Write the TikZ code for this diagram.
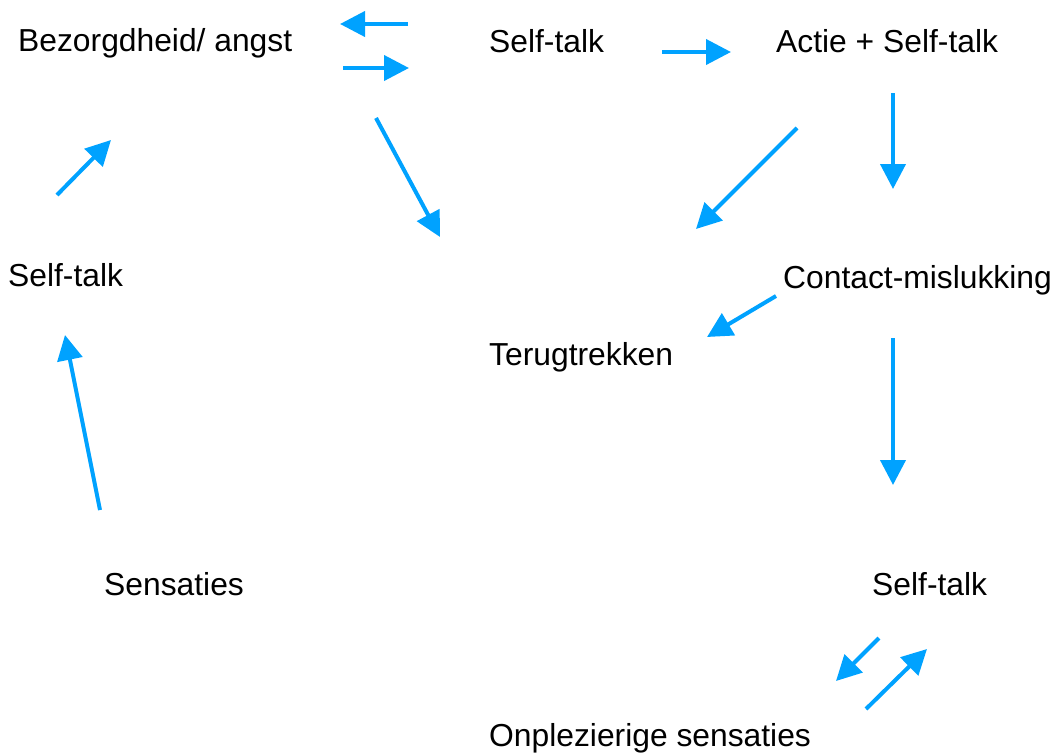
\documentclass[tikz,border=0pt]{standalone}
\usepackage{fontspec}
\setmainfont{Liberation Sans}
\usetikzlibrary{arrows.meta}
\definecolor{arr}{HTML}{00A2FF}
\begin{document}
\begin{tikzpicture}[x=1pt,y=-1pt,
  lbl/.style={anchor=base west,inner sep=0pt,font=\fontsize{31.8}{36}\selectfont},
  arrw/.style={draw=arr,line width=4pt,-{Triangle[length=25pt,width=25pt]}}]
\useasboundingbox (0,0) rectangle (1055,753);
\node[lbl] (bez) at (18,51) {Bezorgdheid/ angst};
\node[lbl] (st1) at (489,52) {Self-talk};
\node[lbl] (act) at (776,52) {Actie + Self-talk};
\node[lbl] (st2) at (8,286) {Self-talk};
\node[lbl] (con) at (783,288) {Contact-mislukking};
\node[lbl] (ter) at (489,365) {Terugtrekken};
\node[lbl] (sen) at (104,595) {Sensaties};
\node[lbl] (st3) at (872,595) {Self-talk};
\node[lbl] (onp) at (489,746) {Onplezierige sensaties};
\coordinate (a1s) at (408,24); \coordinate (a1e) at (340,24);
\coordinate (a2s) at (343,68); \coordinate (a2e) at (409,68);
\coordinate (a3s) at (662,52); \coordinate (a3e) at (731,52);
\coordinate (a4s) at (376,118); \coordinate (a4e) at (440,237);
\coordinate (a5s) at (797,128); \coordinate (a5e) at (696,229);
\coordinate (a6s) at (893,93); \coordinate (a6e) at (893,189);
\coordinate (a7s) at (57,195); \coordinate (a7e) at (111,140);
\coordinate (a8s) at (100,510); \coordinate (a8e) at (65,335);
\coordinate (a9s) at (776,296); \coordinate (a9e) at (707,337);
\coordinate (a10s) at (893,338); \coordinate (a10e) at (893,485);
\coordinate (a11s) at (879,638); \coordinate (a11e) at (836,681);
\coordinate (a12s) at (866,709); \coordinate (a12e) at (927,649);
\foreach \i in {1,...,12} {\draw[arrw] (a\i s) -- (a\i e);}
\end{tikzpicture}
\end{document}
